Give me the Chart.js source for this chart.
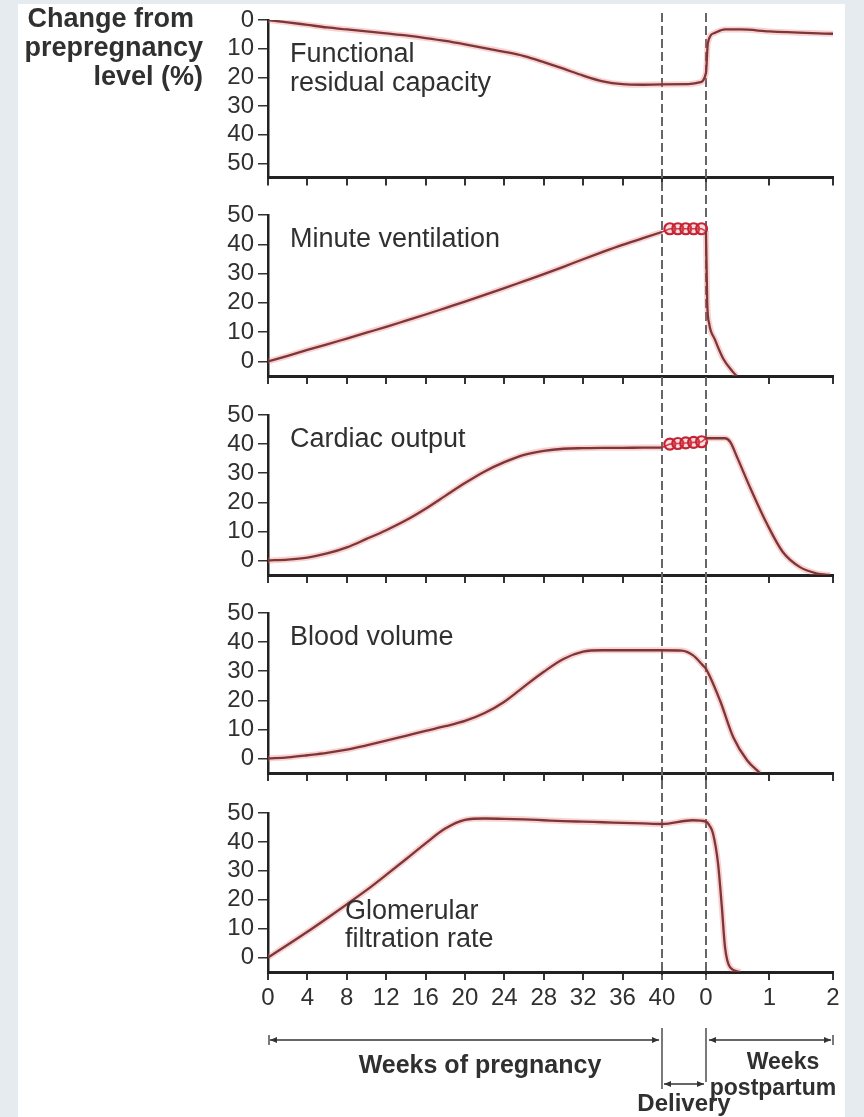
<!DOCTYPE html>
<html>
<head>
<meta charset="utf-8">
<script src="https://cdn.jsdelivr.net/npm/chart.js@4"></script>
<style>
  html, body { margin: 0; padding: 0; background: #e6ebf0; width: 864px; height: 1117px; overflow: hidden; }
  #sheet { position: absolute; left: 18px; top: 4px; width: 827px; height: 1113px; background: #fff; }
  canvas { position: absolute; left: 0; }
</style>
</head>
<body>
<div id="sheet"></div>
<canvas id="frc"></canvas>
<canvas id="vent"></canvas>
<canvas id="cardiac"></canvas>
<canvas id="blood"></canvas>
<canvas id="gfr"></canvas>
<script>
// x axis: weeks of pregnancy, then the delivery band, then weeks postpartum
const pregnancyWeeks = [0, 2, 4, 6, 8, 10, 12, 14, 16, 18, 20, 22, 24, 26, 28, 30, 32, 34, 36, 38, 40];
const pregnancyTicks = [0, 4, 8, 12, 16, 20, 24, 28, 32, 36, 40];
const postpartumTicks = [0, 1, 2];
const yTicks = [0, 10, 20, 30, 40, 50];

// functional residual capacity (decrease, %)
const frcPregnancy = [0, 0.8, 1.7, 2.6, 3.3, 4.0, 4.7, 5.4, 6.3, 7.3, 8.5, 9.8, 11.1, 12.6, 14.7, 17.0, 19.4, 21.4, 22.4, 22.6, 22.5];
const frcDeliveryAt = [0.6, 0.85];
const frcDelivery = [22.4, 21.8];
const frcPostWeeks = [0, 0.03, 0.14, 0.3, 0.55, 1, 2];
const frcPost = [18.5, 8, 4.5, 3.3, 3.3, 4.0, 4.8];

// minute ventilation
const ventPregnancy = [0, 1.9, 3.9, 5.8, 7.8, 9.8, 11.8, 13.9, 16.0, 18.2, 20.4, 22.7, 25.0, 27.4, 29.8, 32.3, 34.9, 37.4, 39.8, 42.0, 44.2];
const ventCoilAt = [0, 0.18, 0.36, 0.54, 0.72, 0.9, 1];
const ventCoil = [44.2, 45.3, 45.3, 45.3, 45.3, 45.3, 44.5];
const ventPostWeeks = [0, 0.02, 0.05, 0.14, 0.27, 0.42, 0.48];
const ventPost = [44.5, 20, 13, 7.5, 1, -3.5, -5];

// cardiac output
const cardiacPregnancy = [0, 0.3, 1.0, 2.4, 4.5, 7.4, 10.4, 13.8, 17.8, 22.2, 26.6, 30.6, 33.8, 36.3, 37.7, 38.4, 38.6, 38.7, 38.7, 38.8, 38.8];
const cardiacCoilAt = [0, 0.18, 0.36, 0.54, 0.72, 0.9, 1];
const cardiacCoil = [38.8, 40.0, 40.2, 40.4, 40.6, 40.8, 42];
const cardiacPostWeeks = [0, 0.3, 0.38, 0.5, 0.69, 0.96, 1.21, 1.48, 1.75, 1.95];
const cardiacPost = [42, 42, 40.8, 35, 25.3, 12.6, 2.9, -2.3, -4.5, -5];

// blood volume
const bloodPregnancy = [0, 0.4, 1.1, 1.9, 3.0, 4.5, 6.1, 7.8, 9.5, 11.1, 12.9, 15.6, 19.5, 24.7, 29.8, 34.2, 36.7, 37.2, 37.2, 37.2, 37.2];
const bloodDeliveryAt = [0.45, 0.7, 0.93];
const bloodDelivery = [37.1, 35.5, 32];
const bloodPostWeeks = [0, 0.22, 0.43, 0.65, 0.85];
const bloodPost = [30.8, 20, 7.3, -0.7, -5];

// glomerular filtration rate
const gfrPregnancy = [0, 4.4, 8.9, 13.6, 18.4, 23.3, 28.6, 34.0, 39.5, 44.6, 47.6, 48.1, 48.0, 47.8, 47.5, 47.2, 47.0, 46.8, 46.6, 46.4, 46.2];
const gfrDeliveryAt = [0.7];
const gfrDelivery = [47.5];
const gfrPostWeeks = [0, 0.06, 0.11, 0.19, 0.25, 0.3, 0.38, 0.54];
const gfrPost = [47, 45.5, 43, 32.6, 17.5, 3.6, -3.4, -5];

// composite axis: pregnancy weeks as-is, delivery band, stretched postpartum weeks
const DELIVERY_START = 40;
const DELIVERY_WIDTH = 4.47;
const POSTPARTUM_WEEK = 6.45;
const xAt = {
  preg: w => w,
  deliv: f => DELIVERY_START + f * DELIVERY_WIDTH,
  post: p => DELIVERY_START + DELIVERY_WIDTH + p * POSTPARTUM_WEEK
};
const X_MAX = xAt.post(2);
const xTickValues = [...pregnancyTicks.map(xAt.preg), ...postpartumTicks.map(xAt.post)];
const xTickText = [...pregnancyTicks, ...postpartumTicks].map(String);

const DASH_TOP = 13, DASH_BOTTOM = 980;
const TEXT = '#303030';
const FONT = '"Liberation Sans", Arial, Helvetica, sans-serif';
Chart.defaults.font.family = FONT;

function linePoints(preg, delivAt, deliv, postAt, post, gap) {
  const pts = pregnancyWeeks.map((w, i) => ({ x: xAt.preg(w), y: preg[i] }));
  if (gap) pts.push({ x: xAt.deliv(0.5), y: null });
  delivAt.forEach((f, i) => pts.push({ x: xAt.deliv(f), y: deliv[i] }));
  postAt.forEach((p, i) => pts.push({ x: xAt.post(p), y: post[i] }));
  return pts;
}

function curveSets(points) {
  return [
    { data: points, borderColor: 'rgba(236,115,115,0.33)', borderWidth: 6, pointRadius: 0, cubicInterpolationMode: 'monotone' },
    { data: points, borderColor: '#45191c', borderWidth: 2.3, pointRadius: 0, cubicInterpolationMode: 'monotone' }
  ];
}

function coilSet(at, vals) {
  return {
    data: at.map((f, i) => ({ x: xAt.deliv(f), y: vals[i] })),
    borderColor: '#d02a3a', borderWidth: 1.6, tension: 0,
    pointStyle: 'circle',
    pointRadius: c => (c.dataIndex === 0 || c.dataIndex === at.length - 1) ? 0 : 5.5,
    pointBorderWidth: 2.2, pointBorderColor: '#c42436', pointBackgroundColor: 'rgba(240,120,120,0.25)'
  };
}

function arrowHead(ctx, x, y, dir) {
  ctx.beginPath();
  ctx.moveTo(x, y);
  ctx.lineTo(x - dir * 7, y - 3);
  ctx.lineTo(x - dir * 7, y + 3);
  ctx.closePath();
  ctx.fill();
}

function arrowLine(ctx, x1, x2, y) {
  ctx.beginPath();
  ctx.moveTo(x1, y);
  ctx.lineTo(x2, y);
  ctx.stroke();
  arrowHead(ctx, x1, y, -1);
  arrowHead(ctx, x2, y, 1);
}

function decor(p) {
  return {
    id: 'decor_' + p.id,
    beforeDatasetsDraw(chart) {
      const ctx = chart.ctx, xs = chart.scales.x;
      const a = Math.max(DASH_TOP, p.top), b = Math.min(DASH_BOTTOM, p.bottom);
      ctx.save();
      ctx.strokeStyle = '#666';
      ctx.lineWidth = 2;
      ctx.setLineDash([9, 4]);
      ctx.lineDashOffset = a - DASH_TOP;
      [xAt.deliv(0), xAt.post(0)].forEach(v => {
        const x = Math.round(xs.getPixelForValue(v));
        ctx.beginPath();
        ctx.moveTo(x, a - p.top);
        ctx.lineTo(x, b - p.top);
        ctx.stroke();
      });
      ctx.restore();
    },
    afterDraw(chart) {
      const ctx = chart.ctx, xs = chart.scales.x;
      ctx.save();
      ctx.fillStyle = TEXT;
      ctx.textBaseline = 'middle';
      p.texts.forEach(t => {
        ctx.font = (t.bold ? 'bold ' : '') + t.size + 'px ' + FONT;
        ctx.textAlign = t.align || 'left';
        ctx.fillText(t.text, t.x, t.y - p.top);
      });
      if (p.last) {
        const px = v => xs.getPixelForValue(v);
        const x0 = px(xAt.preg(0)), x40 = Math.round(px(xAt.deliv(0))), xd = Math.round(px(xAt.post(0))), x2 = px(xAt.post(2));
        const yb = 1040 - p.top;
        ctx.strokeStyle = '#333';
        ctx.fillStyle = '#333';
        ctx.lineWidth = 1.3;
        arrowLine(ctx, x0 + 2, x40 - 3, yb);
        arrowLine(ctx, xd + 3, x2 - 2, yb);
        ctx.beginPath();
        ctx.moveTo(x0 + 1, yb - 5); ctx.lineTo(x0 + 1, yb + 5);
        ctx.moveTo(x2, yb - 5); ctx.lineTo(x2, yb + 5);
        ctx.moveTo(x40, 1028 - p.top); ctx.lineTo(x40, 1089 - p.top);
        ctx.moveTo(xd, 1028 - p.top); ctx.lineTo(xd, 1082 - p.top);
        ctx.stroke();
        arrowLine(ctx, x40 + 2, xd - 2, 1084 - p.top);
      }
      ctx.restore();
    }
  };
}

function makePanel(p) {
  const canvas = document.getElementById(p.id);
  canvas.width = 864;
  canvas.height = p.bottom - p.top;
  canvas.style.top = p.top + 'px';
  const xh = p.last ? 40 : 10;
  new Chart(canvas, {
    type: 'line',
    data: { datasets: p.datasets },
    options: {
      responsive: false,
      animation: false,
      devicePixelRatio: 1,
      layout: { padding: { left: 0, right: 31, top: p.plotTop - p.top, bottom: p.bottom - p.plotBottom - xh } },
      plugins: { legend: { display: false }, tooltip: { enabled: false } },
      scales: {
        x: {
          type: 'linear', min: 0, max: X_MAX,
          afterBuildTicks: s => { s.ticks = xTickValues.map(v => ({ value: v })); },
          afterFit: s => { s.height = xh; },
          grid: { drawOnChartArea: false, tickLength: 8, color: '#333', lineWidth: 2 },
          border: { color: '#222', width: 3 },
          ticks: {
            display: !!p.last, autoSkip: false, maxRotation: 0, minRotation: 0, padding: 4,
            color: TEXT, font: { size: 24 },
            callback: (v, i) => xTickText[i]
          }
        },
        y: {
          min: p.reverse ? 0 : -5,
          max: p.reverse ? 55 : 50,
          reverse: !!p.reverse,
          afterBuildTicks: s => { s.ticks = yTicks.map(v => ({ value: v })); },
          afterFit: s => { s.width = 268; },
          grid: { drawOnChartArea: false, tickLength: 10, color: '#333', lineWidth: 1.5 },
          border: { color: '#222', width: 2.5 },
          ticks: { autoSkip: false, padding: 4, color: TEXT, font: { size: 24 } }
        }
      }
    },
    plugins: [decor(p)]
  });
}

makePanel({
  id: 'frc', top: 0, bottom: 196, plotTop: 20, plotBottom: 180, reverse: true,
  datasets: curveSets(linePoints(frcPregnancy, frcDeliveryAt, frcDelivery, frcPostWeeks, frcPost, false)),
  texts: [
    { text: 'Change from', x: 194, y: 20, size: 27, bold: true, align: 'right' },
    { text: 'prepregnancy', x: 203, y: 49, size: 27, bold: true, align: 'right' },
    { text: 'level (%)', x: 203, y: 78, size: 27, bold: true, align: 'right' },
    { text: 'Functional', x: 290, y: 55, size: 27 },
    { text: 'residual capacity', x: 290, y: 84, size: 27 }
  ]
});

makePanel({
  id: 'vent', top: 196, bottom: 395, plotTop: 215, plotBottom: 376,
  datasets: [...curveSets(linePoints(ventPregnancy, [], [], ventPostWeeks, ventPost, true)), coilSet(ventCoilAt, ventCoil)],
  texts: [{ text: 'Minute ventilation', x: 290, y: 240, size: 27 }]
});

makePanel({
  id: 'cardiac', top: 395, bottom: 594, plotTop: 415, plotBottom: 575,
  datasets: [...curveSets(linePoints(cardiacPregnancy, [], [], cardiacPostWeeks, cardiacPost, true)), coilSet(cardiacCoilAt, cardiacCoil)],
  texts: [{ text: 'Cardiac output', x: 290, y: 440, size: 27 }]
});

makePanel({
  id: 'blood', top: 594, bottom: 794, plotTop: 613, plotBottom: 773,
  datasets: curveSets(linePoints(bloodPregnancy, bloodDeliveryAt, bloodDelivery, bloodPostWeeks, bloodPost, false)),
  texts: [{ text: 'Blood volume', x: 290, y: 638, size: 27 }]
});

makePanel({
  id: 'gfr', top: 794, bottom: 1117, plotTop: 813, plotBottom: 972, last: true,
  datasets: curveSets(linePoints(gfrPregnancy, gfrDeliveryAt, gfrDelivery, gfrPostWeeks, gfrPost, false)),
  texts: [
    { text: 'Glomerular', x: 345, y: 912, size: 27 },
    { text: 'filtration rate', x: 345, y: 940, size: 27 },
    { text: 'Weeks of pregnancy', x: 480, y: 1066, size: 25, bold: true, align: 'center' },
    { text: 'Weeks', x: 783, y: 1063, size: 23, bold: true, align: 'center' },
    { text: 'postpartum', x: 773, y: 1089, size: 23, bold: true, align: 'center' },
    { text: 'Delivery', x: 684, y: 1104, size: 24, bold: true, align: 'center' }
  ]
});
</script>
</body>
</html>
